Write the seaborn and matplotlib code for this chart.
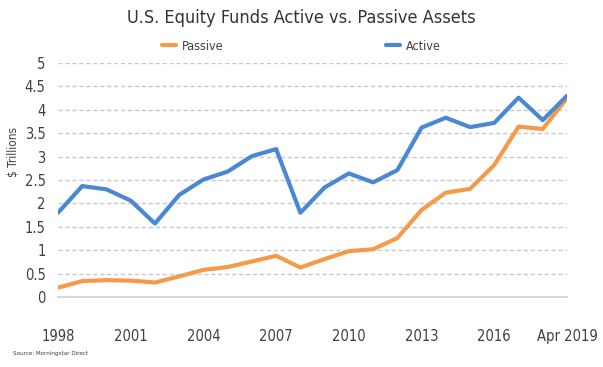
import matplotlib
matplotlib.use("Agg")
import matplotlib.pyplot as plt
import seaborn as sns
import pandas as pd
from matplotlib.lines import Line2D

years = ["1998", "1999", "2000", "2001", "2002", "2003", "2004", "2005", "2006", "2007", "2008",
         "2009", "2010", "2011", "2012", "2013", "2014", "2015", "2016", "2017", "2018", "Apr 2019"]
passive = [0.20, 0.34, 0.36, 0.35, 0.31, 0.44, 0.58, 0.64, 0.76, 0.88, 0.63,
           0.81, 0.98, 1.02, 1.26, 1.86, 2.23, 2.31, 2.82, 3.64, 3.59, 4.25]
active = [1.80, 2.37, 2.30, 2.06, 1.57, 2.18, 2.51, 2.68, 3.01, 3.16, 1.80,
          2.34, 2.64, 2.45, 2.71, 3.62, 3.83, 3.63, 3.72, 4.26, 3.78, 4.30]
tick_labels = ["1998", "2001", "2004", "2007", "2010", "2013", "2016", "Apr 2019"]

sns.set_style("white")
plt.rcParams['font.family'] = ['DejaVu Sans']
plt.rcParams['font.stretch'] = 'condensed'

df = pd.DataFrame({"Year": years, "Passive": passive, "Active": active})
long = df.melt(id_vars="Year", var_name="Type", value_name="Assets")
long["pos"] = long["Year"].map({y: i for i, y in enumerate(years)})

fig = plt.figure(figsize=(6.03, 3.67), dpi=100)
ax = fig.add_axes([58 / 603, 1 - 297 / 367, (567 - 58) / 603, (297 - 63) / 367])

sns.lineplot(data=long, x="pos", y="Assets", hue="Type",
             palette={"Passive": "#F59A4A", "Active": "#4A88D4"},
             linewidth=3, ax=ax, legend=False)

ax.set_xlim(0, len(years) - 1)
ax.set_ylim(0, 5)
ax.set_yticks([0, 0.5, 1, 1.5, 2, 2.5, 3, 3.5, 4, 4.5, 5])
ax.set_yticklabels(["0", "0.5", "1", "1.5", "2", "2.5", "3", "3.5", "4", "4.5", "5"],
                   fontsize=10.5, color="#404040")
ax.set_xticks([years.index(t) for t in tick_labels])
ax.set_xticklabels(tick_labels, fontsize=10.5, color="#404040")
ax.tick_params(axis="x", length=0, pad=23)
ax.tick_params(axis="y", length=0, pad=9)
ax.grid(axis="y", linestyle=(0, (3, 2)), color="#c8c8c8", linewidth=1)
ax.set_axisbelow(True)
for s in ["top", "right", "left"]:
    ax.spines[s].set_visible(False)
ax.spines["bottom"].set_color("#d9d9d9")
ax.spines["bottom"].set_linewidth(1.5)
ax.set_xlabel("")
ax.set_ylabel("$ Trillions", fontsize=8.5, color="#404040")
ax.yaxis.set_label_coords(-0.075, 0.62)

fig.text(0.5, 1 - 18 / 367, "U.S. Equity Funds Active vs. Passive Assets",
         ha="center", va="center", fontsize=13, color="#333333")

handles = [Line2D([], [], color="#F59A4A", linewidth=3),
           Line2D([], [], color="#4A88D4", linewidth=3)]
fig.legend(handles, ["Passive", "Active"], ncol=2, loc="center",
           bbox_to_anchor=(0.5, 1 - 46 / 367), frameon=False, fontsize=9,
           handlelength=1.1, handletextpad=0.5, columnspacing=13,
           labelcolor="#404040")

fig.text(13 / 603, 1 - 354 / 367, "Source: Morningstar Direct", fontsize=4.5,
         color="#404040", va="center")

fig.savefig("out.png", dpi=100)
